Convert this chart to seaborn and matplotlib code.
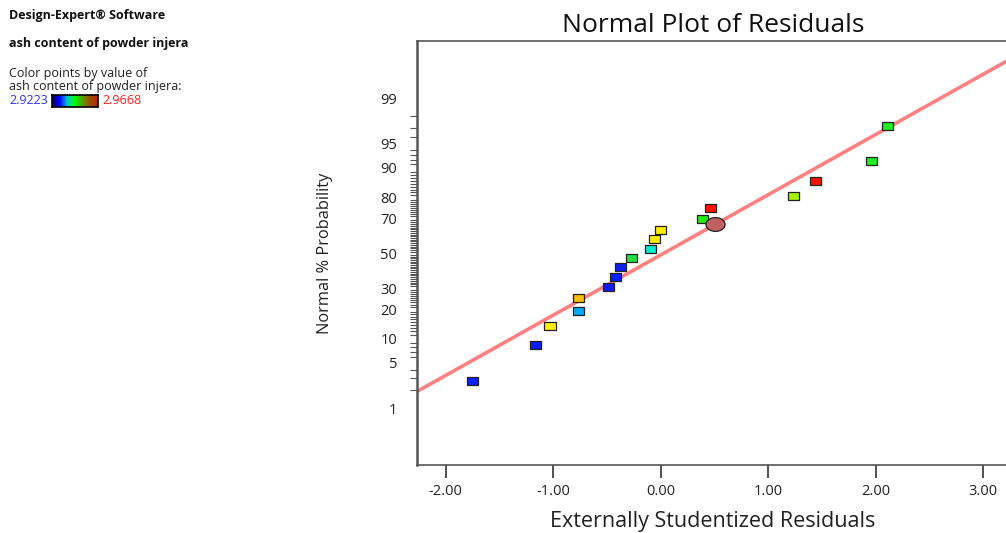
from statistics import NormalDist

import numpy as np
import pandas as pd
import matplotlib
matplotlib.use('Agg')
import matplotlib.pyplot as plt
from matplotlib.colors import LinearSegmentedColormap
import seaborn as sns

# residuals (x) and normal % probability (y)
residual = [-1.751, -1.161, -1.028, -0.765, -0.761, -0.488, -0.417, -0.374,
            -0.268, -0.091, -0.054, -0.002, 0.389, 0.463, 1.233, 1.440,
            1.965, 2.110]
prob_pct = [2.78, 8.33, 13.89, 19.44, 25.00, 30.56, 36.11, 41.67, 47.22,
            52.78, 58.33, 63.89, 69.44, 75.00, 80.56, 86.11, 91.67, 97.22]
point_colour = ['#0a1eff', '#0a1eff', '#ffee00', '#00aaff', '#ffbb00',
                '#0a1eff', '#0a1eff', '#0a1eff', '#22dd44', '#00eecc',
                '#ffee00', '#ffee00', '#22ee11', '#ff1100', '#a6f200',
                '#ff1100', '#22ee22', '#22ee22']

# highlighted point (circle)
mark_x = [0.504]
mark_pct = [66.8]

# fitted normal line, two points
fit_x = [-2.0, 3.0]
fit_pct = [3.32, 99.64]

major_pct = [1, 5, 10, 20, 30, 50, 70, 80, 90, 95, 99]
minor_pct = [p for p in range(1, 100) if p not in major_pct]
x_ticks = [-2.0, -1.0, 0.0, 1.0, 2.0, 3.0]

low_val, high_val = '2.9223', '2.9668'

df = pd.DataFrame({'residual': residual, 'prob': prob_pct,
                   'colour': point_colour})

sns.set_style('white')
plt.rcParams['font.family'] = ['Open Sans', 'DejaVu Sans']

nd = NormalDist()
_ppf = np.vectorize(lambda v: nd.inv_cdf(v / 100.0), otypes=[float])
_cdf = np.vectorize(lambda v: nd.cdf(v) * 100.0, otypes=[float])


def fwd(p):
    p = np.clip(np.asarray(p, dtype=float), 1e-6, 100 - 1e-6)
    return _ppf(p)


def inv(z):
    return _cdf(np.asarray(z, dtype=float))


W, H = 1006, 533
fig = plt.figure(figsize=(W / 100, H / 100), dpi=100)
ax = fig.add_axes([416.7 / W, (H - 465) / H, (1009 - 416.7) / W, (465 - 41) / H])
ax.set_yscale('function', functions=(fwd, inv))

rect = [(-1, -0.72), (1, -0.72), (1, 0.72), (-1, 0.72), (-1, -0.72)]
t = np.linspace(0, 2 * np.pi, 60)
ellipse = list(zip(np.cos(t), 0.72 * np.sin(t)))

ax.axline((fit_x[0], fit_pct[0]), (fit_x[1], fit_pct[1]),
          color='#ff8080', lw=2.6, zorder=2)

sns.scatterplot(data=df, x='residual', y='prob', hue='colour',
                palette={c: c for c in point_colour}, marker=rect, s=64,
                edgecolor='#222222', linewidth=0.9, legend=False, ax=ax,
                zorder=3)
sns.scatterplot(x=mark_x, y=mark_pct, color='#c06262', marker=ellipse,
                s=190, edgecolor='#222222', linewidth=0.9, legend=False,
                ax=ax, zorder=4)

ax.set_xlim(-2.268, 3.24)
ax.set_ylim(0.0737, 99.928)
ax.set_xticks(x_ticks)
ax.set_xticklabels(['%.2f' % v for v in x_ticks])
ax.set_yticks(major_pct)
ax.set_yticklabels([str(p) for p in major_pct])
ax.set_yticks(minor_pct, minor=True)
ax.set_xlabel('')
ax.set_ylabel('')

ax.tick_params(axis='y', which='major', length=10, width=1.2, pad=4,
               labelsize=10.5, colors='#333333', labelcolor='#222222')
ax.tick_params(axis='y', which='minor', length=5, width=0.8,
               colors='#555555', left=True)
ax.tick_params(axis='x', which='major', length=9, width=1.2, pad=5,
               labelsize=10.5, colors='#333333', labelcolor='#222222',
               bottom=True)
for side in ['left', 'top', 'right', 'bottom']:
    ax.spines[side].set_color('#555555')
ax.spines['left'].set_linewidth(1.8)
ax.spines['top'].set_linewidth(1.2)
ax.spines['bottom'].set_linewidth(1.2)

fig.text(713 / W, 1 - 25 / H, 'Normal Plot of Residuals', ha='center',
         va='center', fontsize=19, color='#111111')
fig.text(713 / W, 1 - 521 / H, 'Externally Studentized Residuals',
         ha='center', va='center', fontsize=15.5, color='#222222')
fig.text(325 / W, 1 - 253 / H, 'Normal % Probability', ha='center',
         va='center', rotation=90, fontsize=11.8, color='#222222')

# left info panel
fig.text(9 / W, 1 - 16 / H, 'Design-Expert® Software', fontsize=9,
         fontweight='bold', va='center', color='#111111')
fig.text(9 / W, 1 - 44 / H, 'ash content of powder injera', fontsize=9,
         fontweight='bold', va='center', color='#111111')
fig.text(9 / W, 1 - 73 / H, 'Color points by value of', fontsize=9,
         va='center', color='#222222')
fig.text(9 / W, 1 - 87 / H, 'ash content of powder injera:', fontsize=9,
         va='center', color='#222222')
fig.text(9 / W, 1 - 101 / H, low_val, fontsize=9, va='center',
         color='#3333ff')
fig.text(102 / W, 1 - 101 / H, high_val, fontsize=9, va='center',
         color='#ff2020')

cmap = LinearSegmentedColormap.from_list(
    'de', ['#000070', '#0000ff', '#00c8c8', '#00ff00', '#5a9a00', '#a04a00',
           '#b02a10'])
cax = fig.add_axes([52 / W, 1 - 107 / H, 46 / W, 12 / H])
cax.imshow(np.linspace(0, 1, 200)[None, :], aspect='auto', cmap=cmap)
cax.set_xticks([])
cax.set_yticks([])
for s in cax.spines.values():
    s.set_color('black')
    s.set_linewidth(1.2)

fig.savefig('out.png', dpi=100)
